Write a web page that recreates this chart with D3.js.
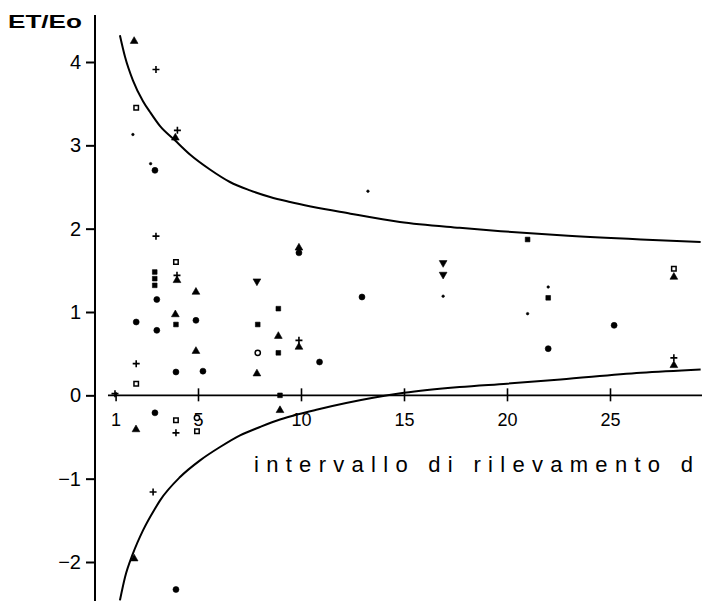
<!DOCTYPE html>
<html>
<head>
<meta charset="utf-8">
<script src="https://cdn.jsdelivr.net/npm/d3@7"></script>
<style>
  body { margin: 0; background: #fff; }
  svg { display: block; font-family: "Liberation Sans", Arial, sans-serif; }
</style>
</head>
<body>
<div id="chart"></div>
<script>
// valeurs : [d, ET/Eo]
const upperCurve = [[1.21,4.32],[1.46,4.06],[1.84,3.78],[2.33,3.53],[2.67,3.40],[3.16,3.23],[3.88,3.06],[4.61,2.89],[5.58,2.71],[6.55,2.56],[7.52,2.46],[8.50,2.38],[9.47,2.32],[12.4,2.18],[14.8,2.08],[17.7,2.01],[19.7,1.97],[22.6,1.92],[26.5,1.87],[29.4,1.84]];
const lowerCurve = [[1.21,-2.46],[1.46,-2.18],[1.84,-1.90],[2.33,-1.62],[2.91,-1.36],[3.16,-1.26],[4.13,-0.98],[5.10,-0.78],[6.07,-0.62],[7.04,-0.48],[8.01,-0.38],[8.98,-0.29],[9.81,-0.23],[10.8,-0.17],[13.5,-0.03],[15.0,0.03],[17.7,0.10],[20.0,0.14],[22.6,0.19],[26.5,0.27],[29.4,0.31]];

const dots = [[2.91,2.70],[3.0,1.15],[2.0,0.88],[4.9,0.90],[3.0,0.78],[3.93,0.28],[5.24,0.29],[10.9,0.40],[12.96,1.18],[22.0,0.56],[25.2,0.84],[2.91,-0.21],[3.93,-2.33],[9.9,1.71]];
const tinyDots = [[1.84,3.13],[2.7,2.78],[13.25,2.45],[21.0,0.98],[16.9,1.19],[22.0,1.30]];
const pluses = [[2.96,3.91],[4.0,3.18],[2.96,1.91],[3.98,1.44],[2.0,0.38],[9.9,0.66],[28.1,0.45],[3.93,-0.45],[2.82,-1.16],[0.97,0.02]];
const triangles = [[1.9,4.25],[3.9,3.09],[3.98,1.38],[4.9,1.24],[3.9,0.97],[8.9,0.71],[4.9,0.53],[7.86,0.26],[9.9,1.77],[9.9,0.58],[28.1,1.42],[28.1,0.36],[1.99,-0.41],[1.9,-1.96],[8.98,-0.18]];
const downTriangles = [[7.86,1.37],[16.9,1.59],[16.9,1.45]];
const squares = [[2.9,1.48],[2.9,1.40],[2.9,1.32],[8.9,1.04],[3.93,0.85],[7.9,0.85],[8.9,0.51],[21.0,1.87],[22.0,1.17],[8.98,0.0]];
const openSquares = [[2.0,3.45],[3.93,1.60],[2.0,0.14],[3.93,-0.30],[4.95,-0.43],[28.1,1.52]];
const openCircles = [[7.9,0.51],[4.95,-0.27]];

const xTicks = [1, 5, 10, 15, 20, 25];
const yTicks = [-2, -1, 0, 1, 2, 3, 4];

const width = 702;
const height = 601;

const svg = d3.select("#chart")
  .append("svg")
  .attr("width", width)
  .attr("height", height);

// échelles
const x = d3.scaleLinear().domain([0, 25]).range([95, 610]);
const y = d3.scaleLinear().domain([-2, 4]).range([562, 62]);

//---------------------------------------------------------------------------------------
// axe Y

const yAxis = svg.append("g")
  .attr("transform", `translate(${x(0)},0)`)
  .call(d3.axisLeft(y)
    .tickValues(yTicks)
    .tickFormat(d => d < 0 ? `\u2212${-d}` : `${d}`)
    .tickSize(9)
    .tickSizeOuter(0)
    .tickPadding(5));

yAxis.select(".domain")
  .attr("d", `M0,15V${height}`)
  .attr("stroke-width", 2);

yAxis.selectAll(".tick line").attr("stroke-width", 2);
yAxis.selectAll("text")
  .attr("font-size", 20)
  .attr("fill", "#000");

// axe X
const xAxis = svg.append("g")
  .attr("transform", `translate(0,${y(0)})`)
  .call(d3.axisBottom(x).tickValues(xTicks).tickSizeOuter(0).tickPadding(12));

xAxis.select(".domain")
  .attr("d", `M${x(0.63)},0H${width}`)
  .attr("stroke-width", 1.6);

xAxis.selectAll(".tick line")
  .attr("y1", d => d === 1 ? -3 : -7)
  .attr("y2", 6)
  .attr("stroke-width", 1.6);

xAxis.selectAll("text")
  .attr("font-size", 18)
  .attr("fill", "#000");

// titres
svg.append("text")
  .attr("x", 8)
  .attr("y", 28)
  .attr("font-size", 18)
  .attr("font-weight", "bold")
  .attr("textLength", 74)
  .attr("lengthAdjust", "spacingAndGlyphs")
  .text("ET/Eo");

svg.append("text")
  .attr("x", 254)
  .attr("y", 472)
  .attr("font-size", 22)
  .attr("textLength", 439)
  .attr("lengthAdjust", "spacing")
  .text("intervallo di rilevamento d");

//---------------------------------------------------------------------------------------
// courbes enveloppes

const line = d3.line()
  .x(d => x(d[0]))
  .y(d => y(d[1]))
  .curve(d3.curveMonotoneX);

[upperCurve, lowerCurve].forEach(c => {
  svg.append("path")
    .attr("d", line(c))
    .attr("fill", "none")
    .attr("stroke", "#000")
    .attr("stroke-width", 2);
});

//---------------------------------------------------------------------------------------
// points

const pts = svg.append("g");

function drawSymbol(data, type, size, filled, rotate) {
  pts.selectAll(null)
    .data(data)
    .join("path")
    .attr("transform", d => `translate(${x(d[0])},${y(d[1])})${rotate ? " rotate(180)" : ""}`)
    .attr("d", d3.symbol().type(type).size(size))
    .attr("fill", filled ? "#000" : "#fff")
    .attr("stroke", "#000")
    .attr("stroke-width", filled ? 0.6 : 1.5);
}

drawSymbol(dots, d3.symbolCircle, 28, true);
drawSymbol(tinyDots, d3.symbolCircle, 5, true);
drawSymbol(triangles, d3.symbolTriangle, 26, true);
drawSymbol(downTriangles, d3.symbolTriangle, 26, true, true);
drawSymbol(squares, d3.symbolSquare, 22, true);
drawSymbol(openSquares, d3.symbolSquare, 20, false);
drawSymbol(openCircles, d3.symbolCircle, 22, false);

// croix fines
pts.selectAll(null)
  .data(pluses)
  .join("path")
  .attr("transform", d => `translate(${x(d[0])},${y(d[1])})`)
  .attr("d", "M-3.5,0H3.5M0,-3.5V3.5")
  .attr("stroke", "#000")
  .attr("stroke-width", 1.6);
</script>
</body>
</html>
